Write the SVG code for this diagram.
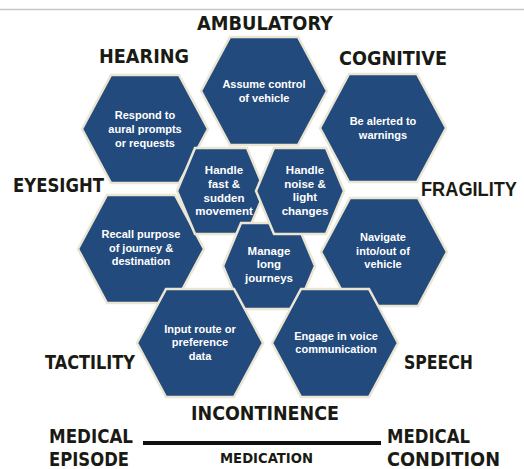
<svg xmlns="http://www.w3.org/2000/svg" xmlns:xlink="http://www.w3.org/1999/xlink" width="524" height="469" viewBox="0 0 524 469">
  <style>
    .hex { fill: #234a7c; stroke: #ebe6d4; stroke-width: 2.5; stroke-linejoin: miter; }
    .ht { font-family: "Liberation Sans", Arial, sans-serif; font-weight: bold; font-size: 11px; fill: #ffffff; text-anchor: middle; }
    .hs { font-size: 11.5px; }
    .lbl { font-family: "DejaVu Sans", "Liberation Sans", sans-serif; font-weight: bold; font-size: 19px; fill: #1a1a14; }
    .sm { font-size: 14.5px; }
    .nar { font-family: "Liberation Sans", Arial, sans-serif; font-size: 19.5px; }
  </style>
  <defs>
    <polygon id="big" class="hex" points="-63,0 -34,-54 34,-54 63,0 34,54 -34,54"/>
    <polygon id="small" class="hex" points="-44,0 -26,-43 26,-43 44,0 26,43 -26,43"/>
    <polygon id="mid" class="hex" points="-46,0 -28,-43 28,-43 46,0 28,43 -28,43"/>
  </defs>
  <rect x="0" y="0" width="524" height="469" fill="#ffffff"/>
  <line x1="0" y1="9.5" x2="524" y2="9.5" stroke="#c8c8c8" stroke-width="1.5"/>

  <g id="n-assume">
    <use href="#big" xlink:href="#big" transform="translate(264,91)"/>
    <text class="ht" x="264" y="88">Assume control</text>
    <text class="ht" x="264" y="102">of vehicle</text>
  </g>
  <g id="n-respond">
    <use href="#big" xlink:href="#big" transform="translate(145,129)"/>
    <text class="ht" x="145" y="119">Respond to</text>
    <text class="ht" x="145" y="133">aural prompts</text>
    <text class="ht" x="145" y="147">or requests</text>
  </g>
  <g id="n-alerted">
    <use href="#big" xlink:href="#big" transform="translate(383,128)"/>
    <text class="ht" x="383" y="125">Be alerted to</text>
    <text class="ht" x="383" y="139">warnings</text>
  </g>
  <g id="n-recall">
    <use href="#big" xlink:href="#big" transform="translate(141,249)"/>
    <text class="ht" x="141" y="238">Recall purpose</text>
    <text class="ht" x="141" y="252">of journey &amp;</text>
    <text class="ht" x="141" y="265">destination</text>
  </g>
  <g id="n-navigate">
    <use href="#big" xlink:href="#big" transform="translate(384,252)"/>
    <text class="ht" x="383" y="241">Navigate</text>
    <text class="ht" x="383" y="255">into/out of</text>
    <text class="ht" x="383" y="268">vehicle</text>
  </g>
  <g id="n-fast">
    <use href="#small" xlink:href="#small" transform="translate(221,191)"/>
    <text class="ht hs" x="224" y="174">Handle</text>
    <text class="ht hs" x="224" y="188">fast &amp;</text>
    <text class="ht hs" x="224" y="202">sudden</text>
    <text class="ht hs" x="224" y="215">movement</text>
  </g>
  <g id="n-manage">
    <use href="#mid" xlink:href="#mid" transform="translate(269,266)"/>
    <text class="ht hs" x="269" y="255">Manage</text>
    <text class="ht hs" x="269" y="268">long</text>
    <text class="ht hs" x="269" y="282">journeys</text>
  </g>
  <g id="n-noise">
    <use href="#small" xlink:href="#small" transform="translate(300,191)"/>
    <text class="ht hs" x="305" y="174">Handle</text>
    <text class="ht hs" x="305" y="188">noise &amp;</text>
    <text class="ht hs" x="305" y="201">light</text>
    <text class="ht hs" x="305" y="215">changes</text>
  </g>
  <g id="n-input">
    <use href="#big" xlink:href="#big" transform="translate(200,343)"/>
    <text class="ht" x="200" y="333">Input route or</text>
    <text class="ht" x="200" y="346">preference</text>
    <text class="ht" x="200" y="360">data</text>
  </g>
  <g id="n-engage">
    <use href="#big" xlink:href="#big" transform="translate(335,343)"/>
    <text class="ht" x="336" y="340">Engage in voice</text>
    <text class="ht" x="336" y="353">communication</text>
  </g>

  <g id="labels">
    <text class="lbl" x="197" y="30" textLength="136" lengthAdjust="spacingAndGlyphs">AMBULATORY</text>
    <text class="lbl" x="99" y="63" textLength="90" lengthAdjust="spacingAndGlyphs">HEARING</text>
    <text class="lbl" x="339" y="65" textLength="108" lengthAdjust="spacingAndGlyphs">COGNITIVE</text>
    <text class="lbl" x="13" y="192" textLength="91" lengthAdjust="spacingAndGlyphs">EYESIGHT</text>
    <text class="lbl nar" x="421" y="196" textLength="96" lengthAdjust="spacingAndGlyphs">FRAGILITY</text>
    <text class="lbl" x="45" y="369" textLength="90" lengthAdjust="spacingAndGlyphs">TACTILITY</text>
    <text class="lbl" x="404" y="369" textLength="69" lengthAdjust="spacingAndGlyphs">SPEECH</text>
    <text class="lbl" x="191" y="420" textLength="148" lengthAdjust="spacingAndGlyphs">INCONTINENCE</text>
    <text class="lbl" x="49" y="443" textLength="84" lengthAdjust="spacingAndGlyphs">MEDICAL</text>
    <text class="lbl" x="49" y="466" textLength="80" lengthAdjust="spacingAndGlyphs">EPISODE</text>
    <text class="lbl" x="387" y="443" textLength="83" lengthAdjust="spacingAndGlyphs">MEDICAL</text>
    <text class="lbl" x="387" y="466" textLength="113" lengthAdjust="spacingAndGlyphs">CONDITION</text>
    <text class="lbl sm" x="220" y="463" textLength="93" lengthAdjust="spacingAndGlyphs">MEDICATION</text>
  </g>
  <g id="connectors">
    <line x1="143" y1="443" x2="381" y2="443" stroke="#111111" stroke-width="4"/>
  </g>
</svg>
